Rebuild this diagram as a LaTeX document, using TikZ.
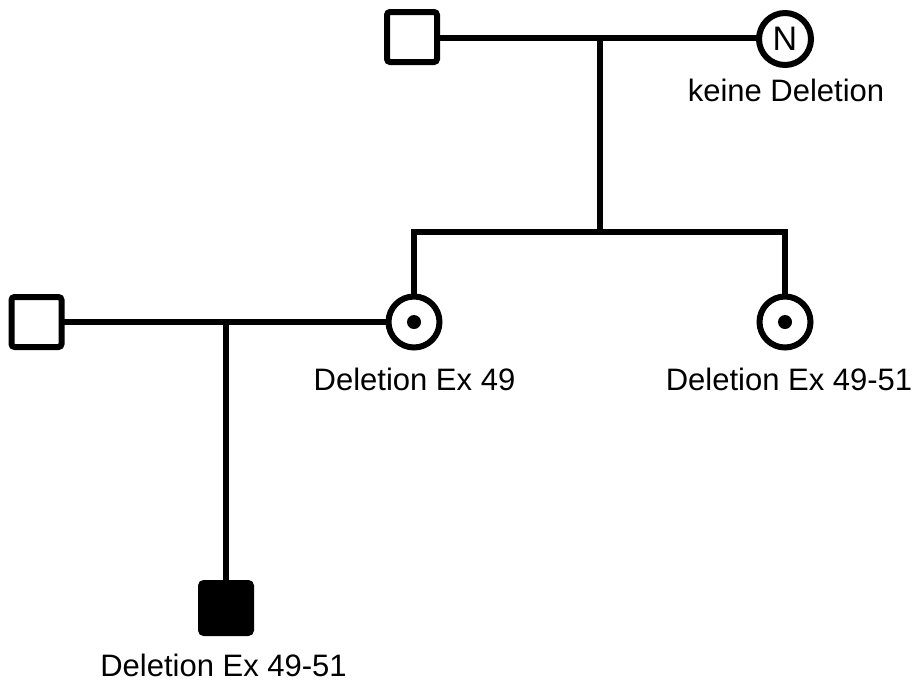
\documentclass[tikz,border=0pt]{standalone}
\usepackage{fontspec}
\setmainfont{Liberation Sans}
\begin{document}
\begin{tikzpicture}[x=1pt,y=-1pt,
  every node/.style={inner sep=0pt, outer sep=0pt},
  male/.style={draw, line width=6pt, rectangle, rounded corners=3pt, minimum size=50pt, fill=white},
  affmale/.style={male, fill=black},
  female/.style={draw, line width=6pt, circle, minimum size=51pt, fill=white},
  dot/.style={circle, fill=black, minimum size=14pt},
  conn/.style={line width=6pt},
  lbl/.style={anchor=base, font=\fontsize{31}{36}\selectfont}
]
\useasboundingbox (0,0) rectangle (915,681);
% generation I
\node[male] (m1) at (412,37) {};
\node[female, minimum size=52pt, font=\fontsize{34}{40}\selectfont] (f1) at (785,39) {N};
\node[lbl] (l1) at (786,101) {keine Deletion};
\coordinate (c1) at (600,38);
\coordinate (s1) at (600,232);
\coordinate (s1l) at (414,232);
\coordinate (s1r) at (785,232);
% generation II
\node[male] (m2) at (36.5,322) {};
\node[female] (f2) at (414,322) {};
\node[female] (f3) at (785,322) {};
\node[dot] (d2) at (f2.center) {};
\node[dot] (d3) at (f3.center) {};
\node[lbl] (l2) at (414.5,390) {Deletion Ex 49};
\node[lbl] (l3) at (789,390) {Deletion Ex 49-51};
\coordinate (c2) at (226,322);
% generation III
\node[affmale] (p1) at (226,608) {};
\node[lbl] (l4) at (223.5,676) {Deletion Ex 49-51};
% connectors
\draw[conn] (m1.east |- c1) -- (f1.west |- c1);
\draw[conn] (c1) -- (s1);
\draw[conn, line cap=rect] (s1l) -- (s1r);
\draw[conn] (s1l) -- (f2.north);
\draw[conn] (s1r) -- (f3.north);
\draw[conn] (m2.east) -- (f2.west);
\draw[conn] (c2) -- (p1.north);
\end{tikzpicture}
\end{document}
